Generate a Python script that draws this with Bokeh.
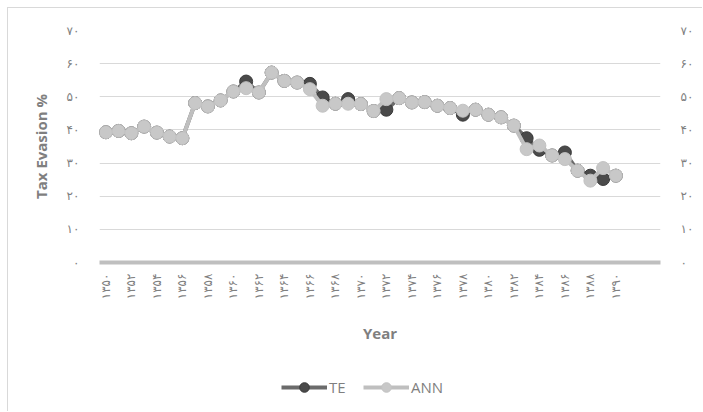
from math import pi
from bokeh.plotting import figure
from bokeh.layouts import column
from bokeh.models import (LinearAxis, FixedTicker, Legend, LegendItem, Range1d,
                          ColumnDataSource)
from bokeh.embed import file_html
from bokeh.resources import INLINE

# ---------------- data ----------------
years = [1350, 1351, 1352, 1353, 1354, 1355, 1356, 1357, 1358, 1359,
         1360, 1361, 1362, 1363, 1364, 1365, 1366, 1367, 1368, 1369,
         1370, 1371, 1372, 1373, 1374, 1375, 1376, 1377, 1378, 1379,
         1380, 1381, 1382, 1383, 1384, 1385, 1386, 1387, 1388, 1389, 1390]

te = [39.3, 39.7, 39.0, 41.0, 39.2, 38.0, 37.5, 48.1, 47.1, 48.9,
      51.6, 54.6, 51.3, 57.3, 54.8, 54.3, 53.9, 49.8, 47.9, 49.3,
      47.8, 45.7, 46.1, 49.6, 48.3, 48.4, 47.3, 46.6, 44.6, 46.1,
      44.6, 43.8, 41.3, 37.5, 34.0, 32.3, 33.2, 27.7, 26.2, 25.2, 26.2]

ann = [39.3, 39.7, 39.0, 41.0, 39.2, 38.0, 37.5, 48.1, 47.1, 48.9,
       51.6, 52.6, 51.3, 57.3, 54.8, 54.3, 52.3, 47.3, 47.9, 47.9,
       47.8, 45.7, 49.3, 49.6, 48.3, 48.4, 47.3, 46.6, 45.8, 46.1,
       44.6, 43.8, 41.3, 34.2, 35.3, 32.3, 31.2, 27.7, 24.7, 28.5, 26.2]

x_ticks = [1350, 1352, 1354, 1356, 1358, 1360, 1362, 1364, 1366, 1368,
           1370, 1372, 1374, 1376, 1378, 1380, 1382, 1384, 1386, 1388, 1390]
x_labels = ["۱۳۵۰", "۱۳۵۲", "۱۳۵۴", "۱۳۵۶", "۱۳۵۸", "۱۳۶۰", "۱۳۶۲", "۱۳۶۴",
            "۱۳۶۶", "۱۳۶۸", "۱۳۷۰", "۱۳۷۲", "۱۳۷۴", "۱۳۷۶", "۱۳۷۸", "۱۳۸۰",
            "۱۳۸۲", "۱۳۸۴", "۱۳۸۶", "۱۳۸۸", "۱۳۹۰"]

y_ticks = [0, 10, 20, 30, 40, 50, 60, 70]
y_labels = ["۰", "۱۰", "۲۰", "۳۰", "۴۰", "۵۰", "۶۰", "۷۰"]

series_names = ["TE", "ANN"]

# ---------------- styles ----------------
FONT = "Open Sans"
TXT = "#7f7f7f"
TE_LINE, TE_FILL, TE_EDGE = "#6b6b6b", "#4a4a4a", "#3a3a3a"
ANN_LINE, ANN_FILL, ANN_EDGE = "#bfbfbf", "#c8c8c8", "#c3c3c3"

W = 694
H_MAIN = 350
H_LEG = 53

# ---------------- main figure ----------------
p = figure(width=W, height=H_MAIN,
           x_range=Range1d(1349.5, 1393.5), y_range=Range1d(0, 70),
           output_backend="svg", toolbar_location=None,
           min_border_left=91, min_border_right=42,
           min_border_top=22, min_border_bottom=H_MAIN - 22 - 232)
p.outline_line_color = None
p.background_fill_color = "white"
p.border_fill_color = "white"

p.xgrid.grid_line_color = None
p.ygrid.ticker = FixedTicker(ticks=y_ticks)
p.ygrid.grid_line_color = "#d9d9d9"
p.ygrid.grid_line_width = 1

xa = p.xaxis[0]
xa.ticker = FixedTicker(ticks=x_ticks)
xa.major_label_overrides = {t: l for t, l in zip(x_ticks, x_labels)}
xa.major_label_orientation = pi / 2
xa.major_label_standoff = 11
xa.major_label_text_font = "DejaVu Sans"
xa.major_label_text_font_size = "12px"
xa.major_label_text_color = TXT
xa.major_tick_line_color = None
xa.major_tick_out = 0
xa.major_tick_in = 0
xa.minor_tick_line_color = None
xa.minor_tick_out = 0
xa.axis_line_color = "#bfbfbf"
xa.axis_line_width = 4
xa.axis_label = "Year"
xa.axis_label_text_font = FONT
xa.axis_label_text_font_style = "bold"
xa.axis_label_text_font_size = "15px"
xa.axis_label_text_color = TXT
xa.axis_label_standoff = 21


def style_y(ax):
    ax.ticker = FixedTicker(ticks=y_ticks)
    ax.major_label_overrides = {t: l for t, l in zip(y_ticks, y_labels)}
    ax.major_label_standoff = 20
    ax.major_label_text_font = "DejaVu Sans"
    ax.major_label_text_font_size = "12px"
    ax.major_label_text_color = TXT
    ax.major_tick_line_color = None
    ax.major_tick_out = 0
    ax.major_tick_in = 0
    ax.minor_tick_line_color = None
    ax.minor_tick_out = 0
    ax.axis_line_color = None


ya = p.yaxis[0]
style_y(ya)
ya.axis_label = "Tax Evasion %"
ya.axis_label_text_font = FONT
ya.axis_label_text_font_style = "bold"
ya.axis_label_text_font_size = "15px"
ya.axis_label_text_color = TXT
ya.axis_label_standoff = 13

yr = LinearAxis()
style_y(yr)
p.add_layout(yr, "right")

src = ColumnDataSource(dict(year=years, te=te, ann=ann))

p.line("year", "te", source=src, line_color=TE_LINE, line_width=4)
p.scatter("year", "te", source=src, size=13, fill_color=TE_FILL,
          line_color=TE_EDGE, line_width=1)
p.line("year", "ann", source=src, line_color=ANN_LINE, line_width=4)
p.scatter("year", "ann", source=src, size=13, fill_color=ANN_FILL,
          line_color=ANN_EDGE, line_width=1)

# ---------------- legend strip (below the chart) ----------------
q = figure(width=W, height=H_LEG, x_range=Range1d(0, 1), y_range=Range1d(0, 1),
           output_backend="svg", toolbar_location=None,
           x_axis_location=None, y_axis_location=None,
           min_border=0)
q.grid.grid_line_color = None
q.outline_line_color = None
q.background_fill_color = "white"
q.border_fill_color = "white"

# points far outside the strip's visible range, only so the legend can draw glyphs
hidden = ColumnDataSource(dict(x=[-5, -4], y=[-5, -5]))
l_te = q.line("x", "y", source=hidden, line_color=TE_LINE, line_width=4)
s_te = q.scatter("x", "y", source=hidden, size=11, fill_color=TE_FILL,
                 line_color=TE_EDGE)
l_ann = q.line("x", "y", source=hidden, line_color=ANN_LINE, line_width=4)
s_ann = q.scatter("x", "y", source=hidden, size=11, fill_color=ANN_FILL,
                  line_color=ANN_EDGE)

legend = Legend(items=[LegendItem(label=series_names[0], renderers=[l_te, s_te]),
                       LegendItem(label=series_names[1], renderers=[l_ann, s_ann])],
                orientation="horizontal", location=(182, 12),
                glyph_width=46, glyph_height=24, label_standoff=2, spacing=14,
                padding=0, margin=0,
                border_line_color=None, background_fill_alpha=0,
                label_text_font=FONT, label_text_font_size="15px",
                label_text_color=TXT)
q.add_layout(legend, "center")

layout = column(p, q, spacing=0)
layout.styles = {"margin-left": "7px", "margin-top": "7px",
                 "border-left": "1px solid #d9d9d9",
                 "border-top": "1px solid #d9d9d9"}

open("out.html", "w").write(file_html(layout, INLINE))
